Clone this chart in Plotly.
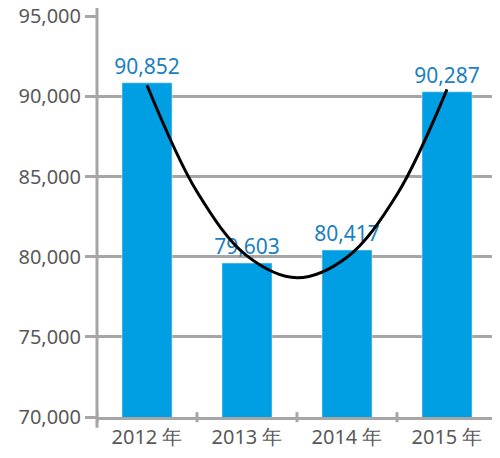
import plotly.graph_objects as go

years = ["2012 年", "2013 年", "2014 年", "2015 年"]
values = [90852, 79603, 80417, 90287]

# trend curve, at half-category steps
trend_x = [0, 0.5, 1, 1.5, 2, 2.5, 3]
trend_y = [90700, 84050, 80050, 78690, 79970, 83880, 90440]

y_ticks = [70000, 75000, 80000, 85000, 90000, 95000]

GREY = "#a6a6a6"
BAR = "#009fe3"
LABEL = "#1b7fc0"
TEXT = "#595959"

fig = go.Figure()
fig.add_trace(
    go.Bar(
        x=list(range(len(years))),
        y=values,
        width=0.5,
        marker_color=BAR,
        text=[f"{v:,}" for v in values],
        textposition="outside",
        constraintext="none",
        textfont={"color": LABEL, "size": 21, "family": "Noto Sans"},
        cliponaxis=False,
    )
)
fig.add_trace(
    go.Scatter(
        x=trend_x,
        y=trend_y,
        mode="lines",
        line={"color": "black", "width": 3, "shape": "spline"},
    )
)

# y-axis line overhanging top and bottom, tick marks crossing the x-axis
shapes = [
    dict(type="line", xref="paper", yref="paper", x0=0, x1=0, y0=-0.027, y1=1.027,
         line={"color": GREY, "width": 3}),
]
for b in [i - 0.5 for i in range(len(years) + 1)]:
    shapes.append(dict(type="line", xref="x", yref="paper", x0=b, x1=b, y0=-0.013, y1=0.012,
                       line={"color": GREY, "width": 3}))

# the page body has an 8px margin, so the figure is shrunk by that much
fig.update_layout(
    width=492,
    height=450,
    margin={"l": 89, "r": 0, "t": 8, "b": 41},
    plot_bgcolor="white",
    paper_bgcolor="white",
    showlegend=False,
    shapes=shapes,
    font={"family": "Noto Sans", "size": 18, "color": TEXT},
    xaxis={
        "range": [-0.5, 3.53],
        "tickvals": list(range(len(years))),
        "ticktext": years,
        "showgrid": False,
        "zeroline": False,
        "showline": True,
        "linecolor": GREY,
        "linewidth": 3,
        "ticks": "",
        "automargin": False,
        "tickfont": {"size": 20, "color": TEXT},
    },
    yaxis={
        "range": [70000, 95020],
        "tickvals": y_ticks,
        "tickformat": ",",
        "showgrid": True,
        "gridcolor": GREY,
        "gridwidth": 3,
        "zeroline": False,
        "showline": False,
        "ticks": "outside",
        "ticklen": 11,
        "tickwidth": 3,
        "tickcolor": GREY,
        "automargin": False,
        "ticklabeloverflow": "allow",
        "tickfont": {"size": 20, "color": TEXT},
    },
)

fig.write_html("out.html")
